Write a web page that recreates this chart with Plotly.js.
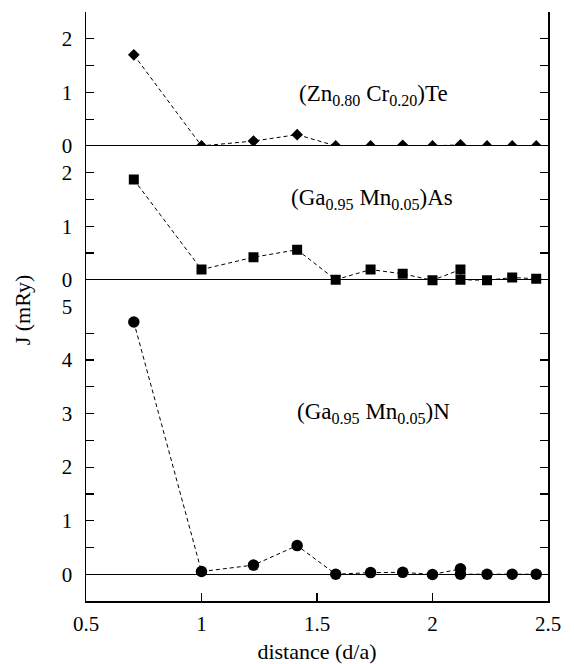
<!DOCTYPE html>
<html>
<head>
<meta charset="utf-8">
<script src="https://cdn.plot.ly/plotly-3.0.1.min.js"></script>
<style>html,body{margin:0;padding:0;background:#fff;}#chart{width:574px;height:664px;}</style>
</head>
<body>
<div id="chart"></div>
<script>
// distances d/a (fcc neighbour shells)
const distance = [0.707, 1.0, 1.225, 1.414, 1.581, 1.732, 1.871, 2.0, 2.121, 2.121, 2.236, 2.345, 2.449];
// exchange couplings J (mRy)
const jZnCrTe = [1.70, 0.0, 0.09, 0.21, 0.0, 0.0, 0.01, 0.0, 0.02, 0.0, 0.0, 0.0, 0.0];
const jGaMnAs = [1.87, 0.19, 0.42, 0.56, 0.0, 0.19, 0.11, -0.01, 0.19, 0.0, -0.01, 0.04, 0.02];
const jGaMnN  = [4.71, 0.05, 0.17, 0.535, 0.0, 0.03, 0.035, -0.005, 0.10, 0.0, 0.0, 0.0, 0.0];

const labels = ['(Zn<sub>0.80</sub> Cr<sub>0.20</sub>)Te', '(Ga<sub>0.95</sub> Mn<sub>0.05</sub>)As', '(Ga<sub>0.95</sub> Mn<sub>0.05</sub>)N'];
const xTicks = [0.5, 1, 1.5, 2, 2.5];
const xTickText = ['0.5', '1', '1.5', '2', '2.5'];
const yTicksTop = [0, 1, 2];
const yTicksMid = [0, 1, 2];
const yTicksBot = [0, 1, 2, 3, 4, 5];
const xTitle = 'distance (d/a)';
const yTitle = 'J (mRy)';

const FONT = '"Liberation Serif", serif';
const lineStyle = {color: '#000', width: 1, dash: '4px,3px'};

const traces = [
  {x: distance, y: jZnCrTe, xaxis: 'x', yaxis: 'y', mode: 'lines+markers', line: lineStyle,
   marker: {symbol: 'diamond', size: 9, color: '#000'}},
  {x: distance, y: jGaMnAs, xaxis: 'x', yaxis: 'y2', mode: 'lines+markers', line: lineStyle,
   marker: {symbol: 'square', size: 10, color: '#000'}},
  {x: distance, y: jGaMnN, xaxis: 'x', yaxis: 'y3', mode: 'lines+markers', line: lineStyle,
   marker: {symbol: 'circle', size: 11.5, color: '#000'}}
];

function yax(domain, range, ticks) {
  return {
    domain: domain, range: range, anchor: 'x', tickmode: 'array',
    tickvals: ticks, ticktext: ticks.map(String),
    ticks: 'inside', ticklen: 8, tickwidth: 1.2, tickcolor: '#000',
    minor: {tickmode: 'linear', tick0: 0, dtick: 0.5, ticks: 'inside', ticklen: 8, tickwidth: 1.2, tickcolor: '#000', showgrid: false},
    showline: true, linecolor: '#000', linewidth: 1.5, mirror: 'ticks',
    showgrid: false, zeroline: true, zerolinecolor: '#000', zerolinewidth: 1,
    ticklabelstandoff: 8,
    tickfont: {size: 21, color: '#000'}
  };
}

const layout = {
  width: 574, height: 664,
  margin: {l: 86, r: 26, t: 12, b: 63},
  paper_bgcolor: '#fff', plot_bgcolor: '#fff',
  showlegend: false,
  font: {family: FONT, size: 21, color: '#000'},
  xaxis: {
    range: [0.5, 2.5], anchor: 'y3', tickmode: 'array', tickvals: xTicks, ticktext: xTickText,
    ticks: 'inside', ticklen: 8, tickwidth: 1.2, tickcolor: '#000',
    showline: true, linecolor: '#000', linewidth: 1.5, showgrid: false, zeroline: false,
    tickfont: {size: 21, color: '#000'}, ticklabelstandoff: 3,
    title: {text: xTitle, font: {size: 22, color: '#000'}, standoff: 12}
  },
  xaxis2: {
    range: [0.5, 2.5], anchor: 'y', side: 'top',
    tickmode: 'array', tickvals: xTicks, ticktext: xTickText, showticklabels: false,
    ticks: 'inside', ticklen: 8, tickwidth: 1.2, tickcolor: '#000',
    showline: true, linecolor: '#000', linewidth: 1.5, showgrid: false, zeroline: false
  },
  yaxis: yax([0.7727, 1], [0, 2.5], yTicksTop),
  yaxis2: yax([0.5, 0.7727], [-0.5, 2.5], yTicksMid),
  yaxis3: yax([0, 0.5], [-0.5, 5], yTicksBot),
  annotations: [
    {text: labels[0], x: 1.743, y: 1.0, yshift: -3, xref: 'x', yref: 'y', xanchor: 'center', showarrow: false,
     font: {size: 23, color: '#000'}},
    {text: labels[1], x: 1.737, y: 1.52, yshift: -1, xref: 'x', yref: 'y2', xanchor: 'center', showarrow: false,
     font: {size: 23, color: '#000'}},
    {text: labels[2], x: 1.743, y: 3.03, yshift: -1, xref: 'x', yref: 'y3', xanchor: 'center', showarrow: false,
     font: {size: 23, color: '#000'}},
    {text: yTitle, x: -0.138, y: 0.494, xref: 'paper', yref: 'paper', xanchor: 'center', yanchor: 'middle',
     showarrow: false, textangle: -90, font: {size: 22, color: '#000'}}
  ]
};

Plotly.newPlot('chart', traces, layout, {displayModeBar: false, staticPlot: true});
</script>
</body>
</html>
